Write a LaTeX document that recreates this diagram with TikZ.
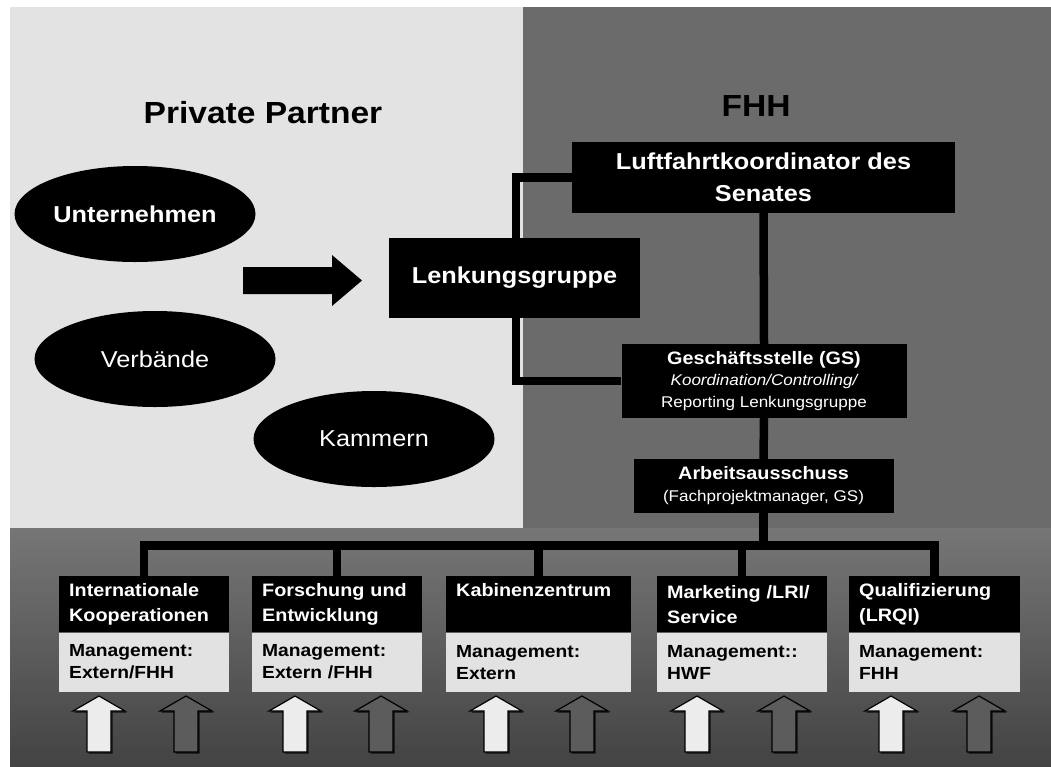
\documentclass[tikz,border=0pt]{standalone}
\usepackage{fontspec}
\setmainfont{Liberation Sans}[FakeStretch=1.1]
\usepackage{xcolor}
\usetikzlibrary{shapes.geometric}
\usetikzlibrary{positioning}
\usetikzlibrary{shadows}

\definecolor{panellight}{HTML}{E3E3E3}
\definecolor{paneldark}{HTML}{6B6B6B}
\definecolor{bandtop}{HTML}{767676}
\definecolor{bandbottom}{HTML}{434343}
\definecolor{mgmtfill}{HTML}{E2E2E2}
\definecolor{uplightfill}{HTML}{ECECEC}
\definecolor{updarkfill}{HTML}{5C5C5C}

\begin{document}
\begin{tikzpicture}[x=1pt, y=-1pt,
    partner/.style={ellipse, fill=black, text=white, inner sep=0pt,
        minimum width=241pt, minimum height=96pt,
        font=\fontsize{23}{28}\selectfont},
    blackbox/.style={rectangle, fill=black, text=white, align=center,
        inner sep=0pt},
    link/.style={line width=8.5pt},
    unittitle/.style={rectangle, fill=black, text=white, anchor=north west,
        align=left, inner xsep=10pt, inner ysep=0pt, minimum height=56pt,
        font=\fontsize{18}{25}\selectfont\bfseries},
    unitmgmt/.style={rectangle, fill=mgmtfill, text=black, align=left,
        inner xsep=10pt, inner ysep=0pt, minimum height=59pt,
        font=\fontsize{17.5}{22}\selectfont\bfseries},
    upshadow/.style={drop shadow={opacity=0.8, fill=black,
        shadow xshift=1.5pt, shadow yshift=-1.5pt}},
    uplight/.style={upshadow, fill=uplightfill, draw=black, line width=1.2pt},
    updark/.style={upshadow, fill=updarkfill, draw=black, line width=1.2pt}]

        % panels
        \fill[white] (0, 0) rectangle (1051, 766);
        \useasboundingbox (0, 0) rectangle (1051, 766);
        \fill[panellight] (10, 7) rectangle (523, 528);
        \fill[paneldark] (523, 7) rectangle (1051, 528);
        \shade[top color=bandtop, bottom color=bandbottom] (10, 528) rectangle (1051, 766);

        \node[font=\fontsize{30.5}{36}\selectfont\bfseries] (privtitle) at (263, 113) {Private Partner};
        \node[font=\fontsize{30.5}{36}\selectfont\bfseries] (fhhtitle) at (756, 106) {FHH};

        % private partners
        \node[partner, font=\fontsize{23}{28}\selectfont\bfseries] (unternehmen) at (135, 214) {Unternehmen};
        \node[partner] (verbaende) at (155, 359) {Verbände};
        \node[partner] (kammern) at (374, 439) {Kammern};
        \fill[black] (243, 267) -- (332, 267) -- (332, 255) -- (362, 280.5)
            -- (332, 306) -- (332, 294) -- (243, 294) -- cycle;

        % FHH
        \node[blackbox, minimum width=383pt, minimum height=71pt,
            font=\fontsize{23}{32}\selectfont\bfseries] (luft) at (763.5, 177.5)
            {Luftfahrtkoordinator des\\Senates};
        \node[blackbox, minimum width=285pt, minimum height=74pt,
            font=\fontsize{15.5}{21.5}\selectfont] (gs) at (764, 381)
            {{\fontsize{18}{21.5}\selectfont\bfseries Geschäftsstelle (GS)}\\
             {\itshape Koordination/Controlling/}\\
             Reporting Lenkungsgruppe};
        \node[blackbox, minimum width=260pt, minimum height=54pt,
            font=\fontsize{15.5}{22}\selectfont] (aa) at (763.5, 486)
            {{\fontsize{18}{22}\selectfont\bfseries Arbeitsausschuss}\\
             (Fachprojektmanager, GS)};

        \coordinate (lenkloop) at (516, 177);
        \draw[link] (luft.west) -| (lenkloop |- gs.west) -- (gs.west);
        \draw[link] (luft.south) -- (gs.north);
        \draw[link] (gs.south) -- (aa.north);

        \node[blackbox, minimum width=251pt, minimum height=80pt,
            font=\fontsize{23}{28}\selectfont\bfseries] (lenk) at (514.5, 278)
            {Lenkungsgruppe};

        % projects
        \node[unittitle, text width=150pt] (intT) at (59, 576)
            {Internationale\\Kooperationen};
        \node[unitmgmt, text width=150pt, below=0pt of intT] (intM)
            {Management:\\Extern/FHH};
        \node[unittitle, text width=150pt] (forT) at (252, 576)
            {Forschung und\\Entwicklung};
        \node[unitmgmt, text width=150pt, below=0pt of forT] (forM)
            {Management:\\Extern /FHH};
        \node[unittitle, text width=165pt] (kabT) at (446, 576)
            {Kabinenzentrum\\\phantom{g}};
        \node[unitmgmt, text width=165pt, below=0pt of kabT] (kabM)
            {Management:\\Extern};
        \node[unittitle, text width=150pt] (markT) at (657, 576)
            {Marketing /LRI/\\Service};
        \node[unitmgmt, text width=150pt, below=0pt of markT] (markM)
            {Management::\\HWF};
        \node[unittitle, text width=151pt] (qualT) at (849, 576)
            {Qualifizierung\\(LRQI)};
        \node[unitmgmt, text width=151pt, below=0pt of qualT] (qualM)
            {Management:\\FHH};

        \coordinate (bus) at (0, 545.5);
        \draw[link] (intT.north) -- (intT.north |- bus) -- (qualT.north |- bus) -- (qualT.north);
        \draw[link] (forT.north) -- (forT.north |- bus);
        \draw[link] (kabT.north) -- (kabT.north |- bus);
        \draw[link] (markT.north) -- (markT.north |- bus);
        \draw[link] (aa.south) -- (aa.south |- bus);

        % up arrows
        \filldraw[uplight] (87, 752) -- ++(0, -41) -- ++(-14, 0) -- ++(26, -15) -- ++(26, 15) -- ++(-14, 0) -- ++(0, 41) -- cycle;
        \filldraw[updark] (174, 752) -- ++(0, -41) -- ++(-14, 0) -- ++(26, -15) -- ++(26, 15) -- ++(-14, 0) -- ++(0, 41) -- cycle;
        \filldraw[uplight] (283, 752) -- ++(0, -41) -- ++(-14, 0) -- ++(26, -15) -- ++(26, 15) -- ++(-14, 0) -- ++(0, 41) -- cycle;
        \filldraw[updark] (369, 752) -- ++(0, -41) -- ++(-14, 0) -- ++(26, -15) -- ++(26, 15) -- ++(-14, 0) -- ++(0, 41) -- cycle;
        \filldraw[uplight] (484, 752) -- ++(0, -41) -- ++(-14, 0) -- ++(26, -15) -- ++(26, 15) -- ++(-14, 0) -- ++(0, 41) -- cycle;
        \filldraw[updark] (570, 752) -- ++(0, -41) -- ++(-14, 0) -- ++(26, -15) -- ++(26, 15) -- ++(-14, 0) -- ++(0, 41) -- cycle;
        \filldraw[uplight] (685, 752) -- ++(0, -41) -- ++(-14, 0) -- ++(26, -15) -- ++(26, 15) -- ++(-14, 0) -- ++(0, 41) -- cycle;
        \filldraw[updark] (772, 752) -- ++(0, -41) -- ++(-14, 0) -- ++(26, -15) -- ++(26, 15) -- ++(-14, 0) -- ++(0, 41) -- cycle;
        \filldraw[uplight] (879, 752) -- ++(0, -41) -- ++(-14, 0) -- ++(26, -15) -- ++(26, 15) -- ++(-14, 0) -- ++(0, 41) -- cycle;
        \filldraw[updark] (967, 752) -- ++(0, -41) -- ++(-14, 0) -- ++(26, -15) -- ++(26, 15) -- ++(-14, 0) -- ++(0, 41) -- cycle;
\end{tikzpicture}
\end{document}
